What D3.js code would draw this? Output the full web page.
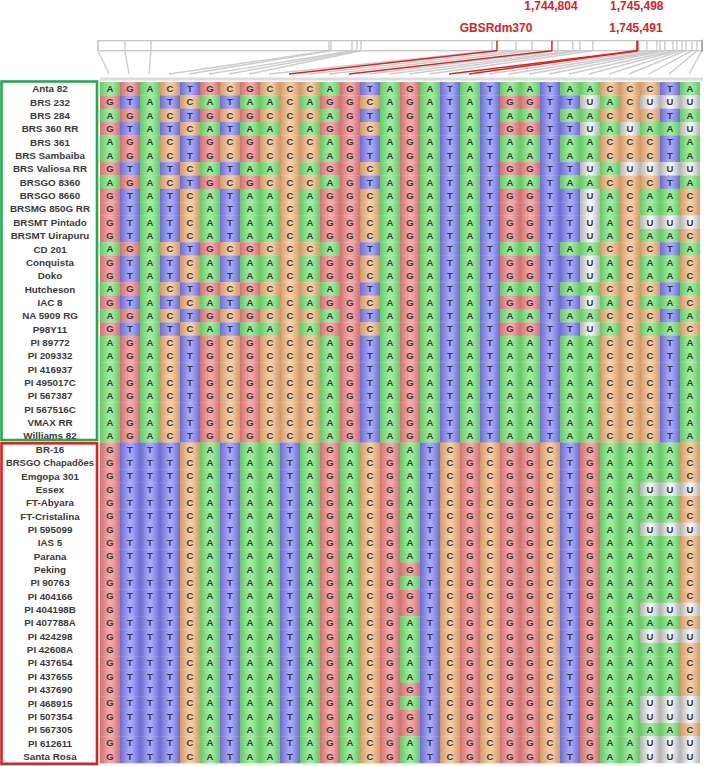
<!DOCTYPE html>
<html><head><meta charset="utf-8">
<script src="https://cdn.jsdelivr.net/npm/d3@7"></script>
<style>body{margin:0;background:#fff}svg{display:block}</style>
</head><body>
<svg id="c" width="709" height="766"></svg>
<script>
// ---------- DATA ----------
const greenVarieties = ["Anta 82","BRS 232","BRS 284","BRS 360 RR","BRS 361","BRS Sambaiba","BRS Valiosa RR","BRSGO 8360","BRSGO 8660","BRSMG 850G RR","BRSMT Pintado","BRSMT Uirapuru","CD 201","Conquista","Doko","Hutcheson","IAC 8","NA 5909 RG","P98Y11","PI 89772","PI 209332","PI 416937","PI 495017C","PI 567387","PI 567516C","VMAX RR","Williams 82"];
const greenSequences = [
"AGACTGCGCCCAGTAGATATAATAACCCTA",
"GTATCATAACAGGCAGATATGGTTUACUUU",
"AGACTGCGCCCAGTAGATATAATAACCCTA",
"GTATCATAACAGGCAGATATGGTTUAUAAU",
"AGACTGCGCCCAGTAGATATAATAACCCTA",
"AGACTGCGCCCAGTAGATATAATAACCCTA",
"GTATCATAACAGGCAGATATGGTTUAUUUU",
"AGACTGCGCCCAGTAGATATAATAACCCTA",
"GTATCATAACAGGCAGATATGGTTUACAAC",
"GTATCATAACAGGCAGATATGGTTUACAAC",
"GTATCATAACAGGCAGATATGGTTUACUUU",
"GTATCATAACAGGCAGATATGGTTUACAAC",
"AGACTGCGCCCAGTAGATATAATAACCCTA",
"GTATCATAACAGGCAGATATGGTTUACAAC",
"GTATCATAACAGGCAGATATGGTTUACAAC",
"AGACTGCGCCCAGTAGATATAATAACCCTA",
"GTATCATAACAGGCAGATATGGTTUACAAC",
"AGACTGCGCCCAGTAGATATAATAACCCTA",
"GTATCATAACAGGCAGATATGGTTUACAAC",
"AGACTGCGCCCAGTAGATATAATAACCCTA",
"AGACTGCGCCCAGTAGATATAATAACCCTA",
"AGACTGCGCCCAGTAGATATAATAACCCTA",
"AGACTGCGCCCAGTAGATATAATAACCCTA",
"AGACTGCGCCCAGTAGATATAATAACCCTA",
"AGACTGCGCCCAGTAGATATAATAACCCTA",
"AGACTGCGCCCAGTAGATATAATAACCCTA",
"AGACTGCGCCCAGTAGATATAATAACCCTA"];
const redVarieties = ["BR-16","BRSGO Chapadões","Emgopa 301","Essex","FT-Abyara","FT-Cristalina","PI 595099","IAS 5","Parana","Peking","PI 90763","PI 404166","PI 404198B","PI 407788A","PI 424298","PI 42608A","PI 437654","PI 437655","PI 437690","PI 468915","PI 507354","PI 567305","PI 612611","Santa Rosa"];
const redSequences = [
"GTTTCATAATAGACGATCGCGGCTGAAAAC",
"GTTTCATAATAGACGATCGCGGCTGAAAAC",
"GTTTCATAATAGACGATCGCGGCTGAAAAC",
"GTTTCATAATAGACGATCGCGGCTGAAUUU",
"GTTTCATAATAGACGATCGCGGCTGAAAAC",
"GTTTCATAATAGACGATCGCGGCTGAAAAC",
"GTTTCATAATAGACGATCGCGGCTGAAUUU",
"GTTTCATAATAGACGATCGCGGCTGAAAAC",
"GTTTCATAATAGACGATCGCGGCTGAAAAC",
"GTTTCATAATAGACGGTCGCGGCTGAAAAC",
"GTTTCATAATAGACGATCGCGGCTGAAAAC",
"GTTTCATAATAGACGGTCGCGGCTGAAAAC",
"GTTTCATAATAGACGGTCGCGGCTGAAUUU",
"GTTTCATAATAGACGATCGCGGCTGAAAAC",
"GTTTCATAATAGACGATCGCGGCTGAAUUU",
"GTTTCATAATAGACGATCGCGGCTGAAAAC",
"GTTTCATAATAGACGATCGCGGCTGAAAAC",
"GTTTCATAATAGACGATCGCGGCTGAAAAC",
"GTTTCATAATAGACGGTCGCGGCTGAAAAC",
"GTTTCATAATAGACGATCGCGGCTGAAUUU",
"GTTTCATAATAGACGGTCGCGGCTGAAUUU",
"GTTTCATAATAGACGGTCGCGGCTGAAAAC",
"GTTTCATAATAGACGATCGCGGCTGAAUUU",
"GTTTCATAATAGACGATCGCGGCTGAAUUU"];
const snpPositions = [1741135,1741353,1741563,1743002,1743018,1743188,1743228,1743261,1744320,1744360,1744513,1744643,1744804,1744852,1744973,1745030,1745135,1745491,1745498,1745572,1745653,1745677,1745717,1745782,1745814,1745855,1745887,1745936,1745976,1746017];
const highlightedColumns = [9,12,17,18];
const markerLabels = ["1,744,804","1,745,498","GBSRdm370","1,745,491"];
const markerLabelPositions = [1744804,1745498,1744360,1745491];
const markerLabelLines = [0,0,1,1];
const regionStart = 1741135, regionEnd = 1746017;
const baseColors = {A:["#68c868","#9cec9c"],G:["#d07272","#f2a6a6"],T:["#6c6cd4","#a6a6f4"],C:["#d49a68","#f4caa0"],U:["#b4b4b4","#f2f2f2"]};

// ---------- DRAW ----------
const svg = d3.select("#c");
const names = greenVarieties.concat(redVarieties);
const seqs = greenSequences.concat(redSequences);
const nCol = seqs[0].length;
const x = d3.scaleBand().domain(d3.range(nCol)).range([100,700]);
const y = d3.scaleBand().domain(names).range([82,763]);
const ruler = d3.scaleLinear().domain([regionStart, regionEnd]).range([98,702]);

const defs = svg.append("defs");
Object.entries(baseColors).forEach(([b,[e,c]])=>{
  const g = defs.append("linearGradient").attr("id","g"+b).attr("x1","0").attr("x2","1").attr("y1","0").attr("y2","0");
  g.append("stop").attr("offset","0").attr("stop-color",e);
  g.append("stop").attr("offset","0.45").attr("stop-color",c);
  g.append("stop").attr("offset","0.6").attr("stop-color",c);
  g.append("stop").attr("offset","1").attr("stop-color",e);
});

// header ruler
const rulerTop = 40.7, rulerBot = 50.7, lineEnd = 74;
svg.append("rect").attr("x",ruler(regionStart)).attr("y",rulerTop)
  .attr("width",ruler(regionEnd)-ruler(regionStart)).attr("height",rulerBot-rulerTop)
  .attr("fill","#fff").attr("stroke","#c6c6c6").attr("stroke-width",1.3);
const cols = d3.range(nCol);
const grayCols = cols.filter(i=>!highlightedColumns.includes(i));
const redCols = cols.filter(i=>highlightedColumns.includes(i));
svg.append("g").selectAll("line.tick").data(grayCols).join("line")
  .attr("x1",i=>ruler(snpPositions[i])).attr("x2",i=>ruler(snpPositions[i]))
  .attr("y1",rulerTop).attr("y2",rulerBot).attr("stroke","#c6c6c6").attr("stroke-width",1.3);
svg.append("g").selectAll("line").data(grayCols).join("line")
  .attr("x1",i=>ruler(snpPositions[i])).attr("y1",rulerBot)
  .attr("x2",i=>x(i)+x.bandwidth()/2-1).attr("y2",lineEnd)
  .attr("stroke","#cccccc").attr("stroke-width",1.4);
svg.append("line").attr("x1",ruler(regionEnd)).attr("x2",ruler(regionEnd))
  .attr("y1",rulerTop-1).attr("y2",rulerBot+1).attr("stroke","#aaaaaa").attr("stroke-width",2);
svg.append("g").selectAll("line").data(redCols).join("line")
  .attr("x1",i=>ruler(snpPositions[i])).attr("x2",i=>ruler(snpPositions[i]))
  .attr("y1",rulerTop).attr("y2",rulerBot).attr("stroke","#e0201c").attr("stroke-width",1.5);
svg.append("g").selectAll("line").data(redCols).join("line")
  .attr("x1",i=>ruler(snpPositions[i])).attr("y1",rulerBot)
  .attr("x2",i=>x(i)+x.bandwidth()/2-1).attr("y2",lineEnd)
  .attr("stroke","#e0201c").attr("stroke-width",1.5);

svg.append("g").selectAll("text").data(markerLabels).join("text")
  .attr("x",(d,i)=>ruler(markerLabelPositions[i])-1)
  .attr("y",(d,i)=>markerLabelLines[i]===0?9.5:31.5)
  .attr("text-anchor","middle").attr("fill","#e0201c")
  .attr("font-family","Liberation Sans, Arial, sans-serif").attr("font-weight","bold").attr("font-size","12px")
  .text(d=>d);

// top gray band
svg.append("rect").attr("x",100).attr("y",77.5).attr("width",603).attr("height",3).attr("fill","#dcdcdc");

// cells
const cells = [];
seqs.forEach((s,r)=>{ for(let c=0;c<s.length;c++) cells.push({name:names[r],col:c,base:s[c]}); });
const cg = svg.append("g");
cg.selectAll("rect").data(cells).join("rect")
  .attr("x",d=>x(d.col)).attr("y",d=>y(d.name))
  .attr("width",x.bandwidth()).attr("height",y.bandwidth()+0.3)
  .attr("fill",d=>"url(#g"+d.base+")");
cg.selectAll("text").data(cells).join("text")
  .attr("x",d=>x(d.col)+x.bandwidth()/2).attr("y",d=>y(d.name)+y.bandwidth()/2+3.4)
  .attr("text-anchor","middle").attr("fill","#3a3a3a")
  .attr("font-family","Liberation Sans, Arial, sans-serif").attr("font-weight","bold").attr("font-size","9.5px")
  .text(d=>d.base);

// labels
const lbl = svg.append("g").selectAll("text").data(names).join("text")
  .attr("x",50).attr("y",d=>y(d)+y.bandwidth()/2+3.6)
  .attr("text-anchor","middle").attr("fill","#3a3a3a")
  .attr("font-family","Liberation Sans, Arial, sans-serif").attr("font-weight","bold").attr("font-size","9.8px")
  .text(d=>d);
lbl.each(function(){
  const w = this.getComputedTextLength();
  if (w > 88) d3.select(this).attr("textLength",88).attr("lengthAdjust","spacingAndGlyphs");
});

// group boxes
const gTop = y(greenVarieties[0]), gBot = y(greenVarieties[greenVarieties.length-1])+y.bandwidth();
const rTop = y(redVarieties[0]), rBot = y(redVarieties[redVarieties.length-1])+y.bandwidth();
svg.append("rect").attr("x",1.5).attr("y",gTop-0.5).attr("width",95.5).attr("height",gBot-gTop-2)
  .attr("fill","none").attr("stroke","#1daf4c").attr("stroke-width",2.6);
svg.append("rect").attr("x",1.5).attr("y",rTop+0.8).attr("width",95.5).attr("height",rBot-rTop)
  .attr("fill","none").attr("stroke","#e2201e").attr("stroke-width",2.6);
</script>
</body></html>
